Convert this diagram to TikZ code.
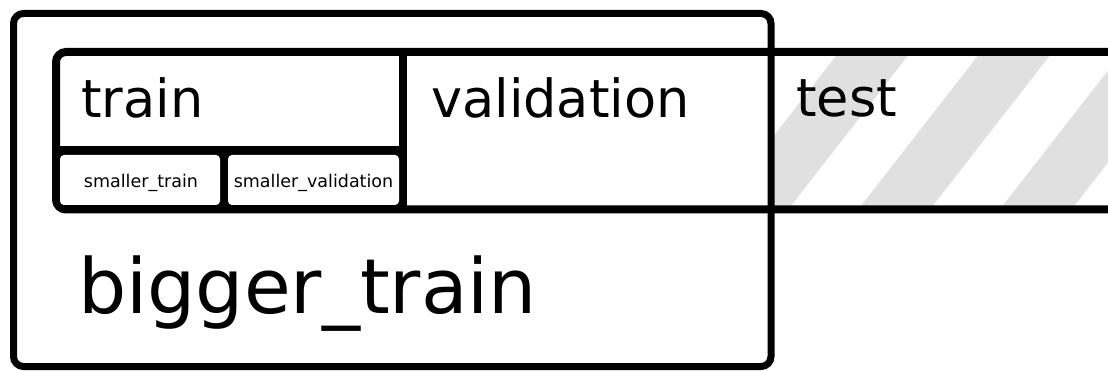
\documentclass[tikz,border=0pt]{standalone}
\usepackage{fontspec}
\setmainfont{DejaVu Sans}
\begin{document}
\begin{tikzpicture}[x=1pt,y=-1pt,
  hatch/.style={fill=black!12},
  bigtxt/.style={anchor=base west, inner sep=0pt, font=\fontsize{52.5}{60}\selectfont},
  hugetxt/.style={anchor=base west, inner sep=0pt, font=\fontsize{76}{80}\selectfont},
  smalltxt/.style={anchor=base, inner sep=0pt, font=\fontsize{17.5}{20}\selectfont},
  smallbox/.style={fill=white, rounded corners=4pt}]
\useasboundingbox (0,0) rectangle (1108,371);
\clip (0,0) rectangle (1108,371);
% hatching of the test area
\begin{scope}
  \clip (771,52) rectangle (1108,210);
  \foreach \x in {436.6,578.3,720,861.7,1003.3,1145}
    \fill[hatch] ({\x-42.8},260) -- ({\x+28.9},260) -- ({\x+231.2},0) -- ({\x+159.5},0) -- cycle;
\end{scope}
% inner strip: train | validation | test
\draw[line width=8pt, rounded corners=10pt] (1120,52) -- (56,52) -- (56,209.5) -- (1120,209.5);
\draw[line width=8pt] (403,52) -- (403,209.5);
\draw[line width=8pt] (56,150.5) -- (403,150.5);
% sub row
\fill (58,150) rectangle (403,207);
\fill[smallbox] (60,155) rectangle (220,205);
\fill[smallbox] (228,155) rectangle (399,205);
% bigger_train box
\draw[line width=7pt, rounded corners=10pt] (13.5,13.5) rectangle (771,366.5);
% labels
\node[bigtxt] (train) at (81,118) {train};
\node[bigtxt] (validation) at (431,118) {validation};
\node[bigtxt] (test) at (796,117) {test};
\node[hugetxt] (bigger) at (78,313) {bigger\_train};
\node[smalltxt] (strain) at (141,188) {smaller\_train};
\node[smalltxt] (sval) at (313.5,188) {smaller\_validation};
\end{tikzpicture}
\end{document}
